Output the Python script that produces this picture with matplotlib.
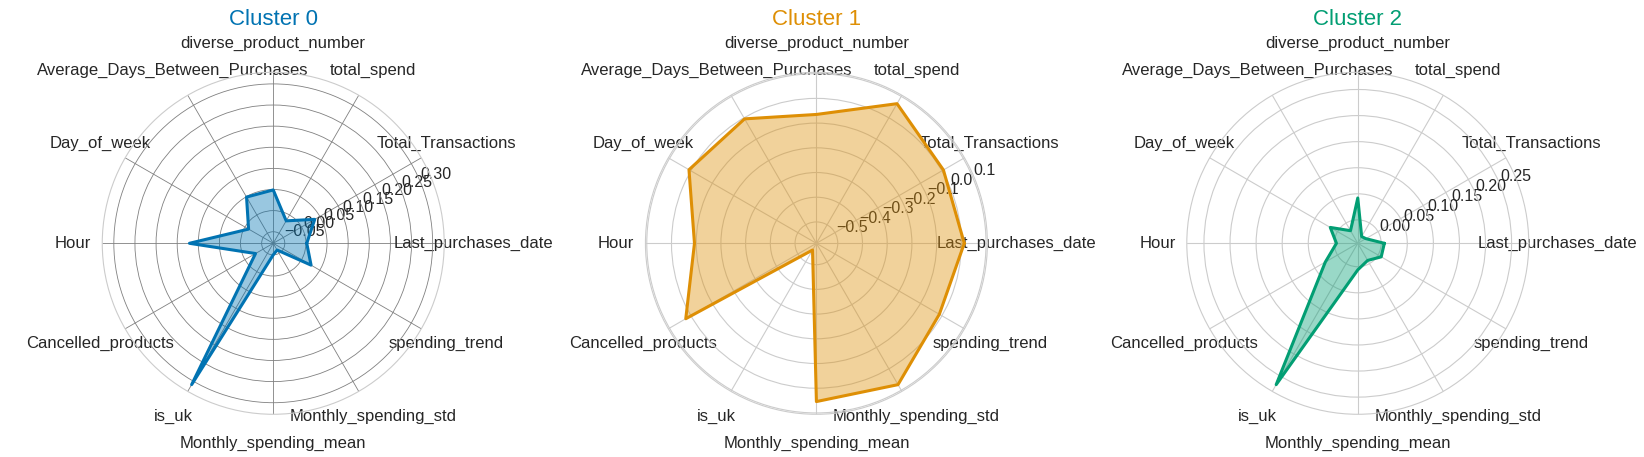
import matplotlib
matplotlib.use("Agg")
import matplotlib.pyplot as plt
import numpy as np
import seaborn as sns

sns.set_style("whitegrid")
plt.rcParams["font.family"] = ["Liberation Sans", "DejaVu Sans"]

features = ["Last_purchases_date", "Total_Transactions", "total_spend",
            "diverse_product_number", "Average_Days_Between_Purchases",
            "Day_of_week", "Hour", "Cancelled_products", "is_uk",
            "Monthly_spending_mean", "Monthly_spending_std", "spending_trend"]

cluster_0 = [0.002, 0.036, -0.016, 0.049, 0.049, -0.010, 0.121, -0.029,
             0.309, -0.050, -0.059, 0.026]
cluster_1 = [0.012, 0.007, 0.066, -0.065, -0.005, 0.009, -0.093, 0.024,
             -0.555, 0.054, 0.074, -0.012]
cluster_2 = [0.006, -0.027, -0.030, 0.042, -0.017, 0.016, -0.004, 0.027,
             0.268, 0.006, -0.007, 0.007]

centroids = [cluster_0, cluster_1, cluster_2]
colors = sns.color_palette("colorblind")[:3]

num_vars = len(features)
angles = np.linspace(0, 2 * np.pi, num_vars, endpoint=False).tolist()
angles += angles[:1]

fig = plt.figure(figsize=(16.44, 4.57), dpi=100)
lefts = [0.0622, 0.3926, 0.7219]

for i, color in enumerate(colors):
    ax = fig.add_axes([lefts[i], 0.0934, 0.208, 0.7484], polar=True)
    data = centroids[i] + centroids[i][:1]
    ax.fill(angles, data, color=color, alpha=0.4)
    ax.plot(angles, data, color=color, linewidth=2.2, linestyle='solid')
    ax.set_title(f'Cluster {i}', size=16, color=color, y=1.115)
    ax.set_xticks(angles[:-1])
    ax.set_xticklabels(features, fontsize=12)
    ax.tick_params(axis='x', pad=10.5)
    ax.tick_params(axis='y', labelsize=11.5)
    if i == 0:
        ax.grid(color='grey', linewidth=0.6)

fig.savefig("out.png", dpi=100)
